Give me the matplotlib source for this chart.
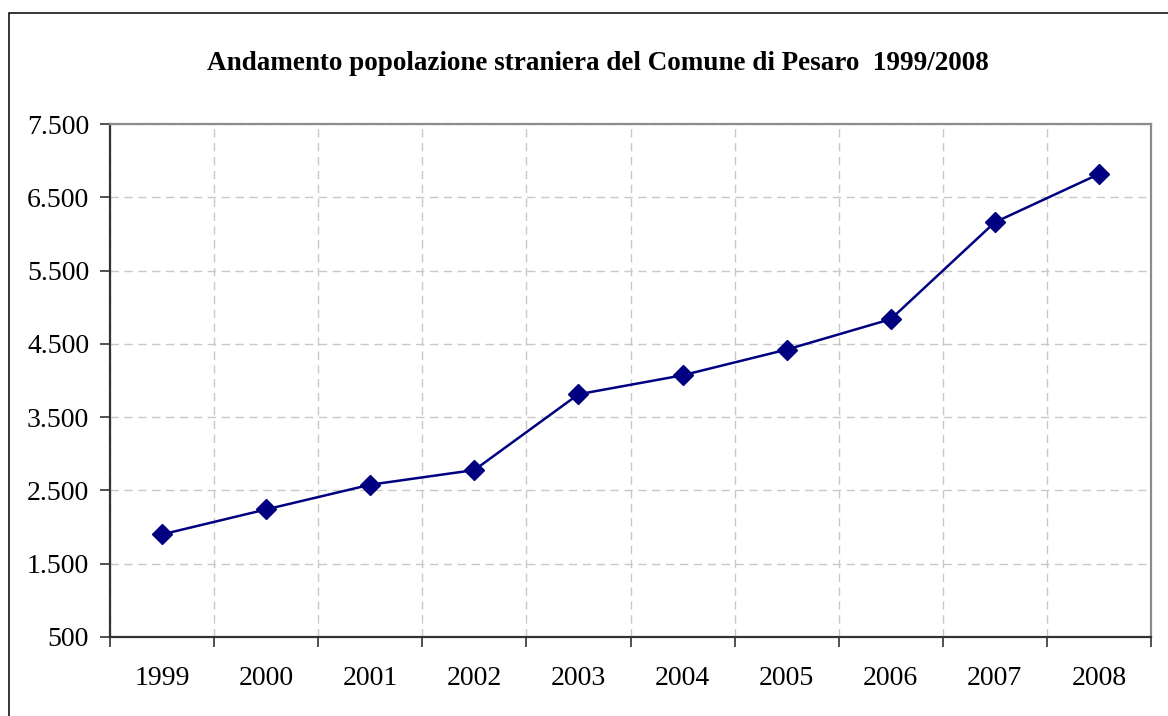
import matplotlib.pyplot as plt
from matplotlib.patches import Rectangle
from matplotlib.ticker import FuncFormatter

anni = ["1999", "2000", "2001", "2002", "2003", "2004", "2005", "2006", "2007", "2008"]
stranieri = [1900, 2241, 2578, 2778, 3812, 4071, 4422, 4837, 6159, 6817]

plt.rcParams['font.family'] = ['Liberation Serif', 'DejaVu Serif']

fig = plt.figure(figsize=(11.68, 7.16), dpi=100)
W, H = 1168, 716
ax = fig.add_axes([110 / W, 1 - 637 / H, (1151 - 110) / W, (637 - 124) / H])

# outer chart border (right and bottom edges fall outside the picture)
fig.patches.append(Rectangle((9 / W, -0.05), 1.2, 1 - 13 / H + 0.05, transform=fig.transFigure,
                             fill=False, edgecolor='black', linewidth=1.1))

x = list(range(len(anni)))
ax.plot(x, stranieri, color='#000080', linewidth=1.8, marker='D', markersize=10, zorder=3)

ax.set_xlim(-0.5, len(anni) - 0.5)
ax.set_ylim(500, 7500)
ax.set_yticks(range(500, 7501, 1000))
ax.yaxis.set_major_formatter(FuncFormatter(lambda v, p: f"{int(v):,}".replace(",", ".")))

ax.set_xticks(x)
ax.set_xticklabels(anni)
ax.set_xticks([i - 0.5 for i in range(len(anni) + 1)], minor=True)
ax.tick_params(axis='x', which='major', length=0, pad=21, labelsize=20)
ax.tick_params(axis='x', which='minor', length=7, width=1.2, color='#333333')
ax.tick_params(axis='y', length=7, width=1.2, color='#333333', pad=8, labelsize=20)

ax.grid(True, axis='y', which='major', linestyle=(0, (6, 4)), color='#c8c8c8', linewidth=1)
ax.grid(True, axis='x', which='minor', linestyle=(0, (6, 4)), color='#c8c8c8', linewidth=1)

for side in ['top', 'right']:
    ax.spines[side].set_color('#8c8c8c')
    ax.spines[side].set_linewidth(1.6)
for side in ['left', 'bottom']:
    ax.spines[side].set_color('#333333')
    ax.spines[side].set_linewidth(1.6)

fig.text(598 / W, 1 - 64 / H, "Andamento popolazione straniera del Comune di Pesaro  1999/2008",
         ha='center', va='center', fontsize=19.5, fontweight='bold')

fig.savefig('out.png', dpi=100)
